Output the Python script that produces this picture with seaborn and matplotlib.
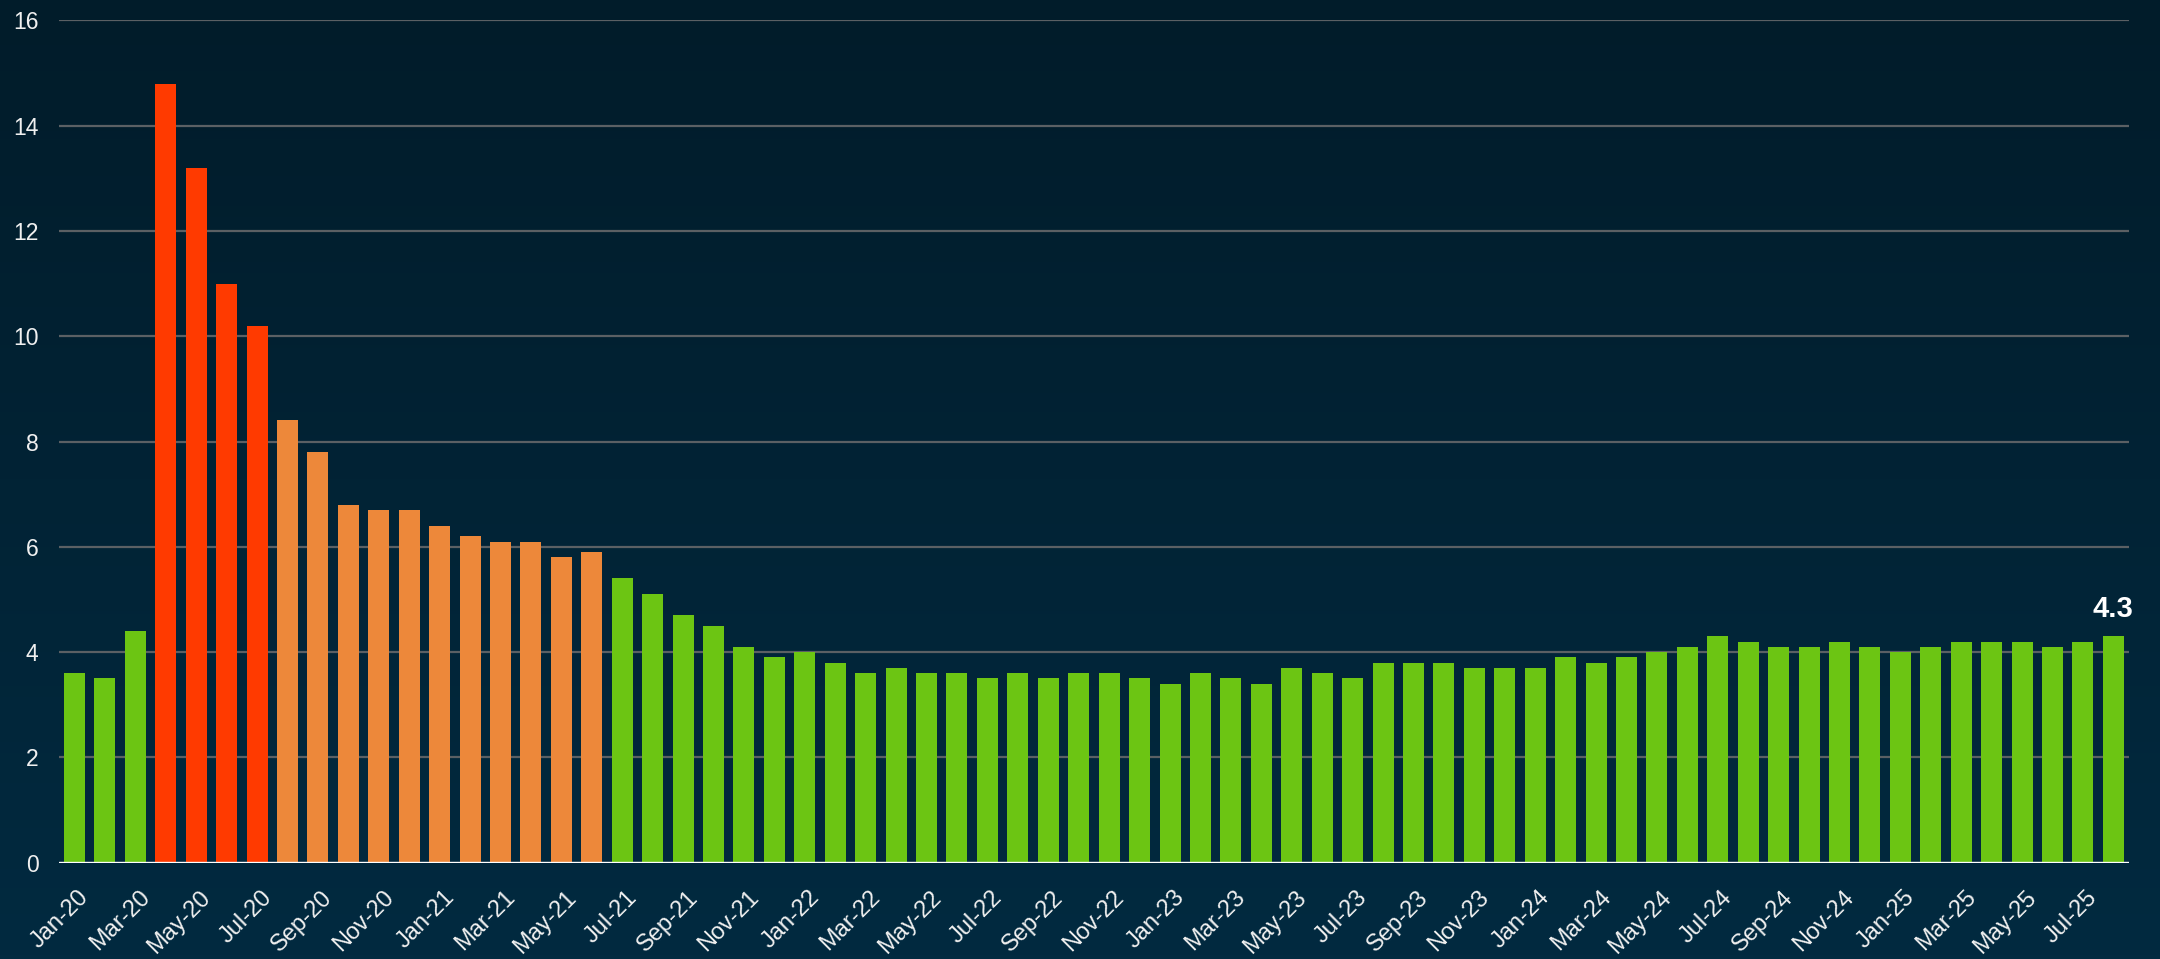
# Monthly unemployment rate, Jan-2020 to Aug-2025, bars coloured by severity

import numpy as np
import pandas as pd
import seaborn as sns
import matplotlib.pyplot as plt
import matplotlib.transforms as mtransforms
from matplotlib.colors import LinearSegmentedColormap

# --- Data ---
years = ["20", "21", "22", "23", "24", "25"]
month_names = ["Jan", "Feb", "Mar", "Apr", "May", "Jun",
               "Jul", "Aug", "Sep", "Oct", "Nov", "Dec"]
months = [f"{m}-{y}" for y in years for m in month_names][:68]

rate = [
    3.6, 3.5, 4.4, 14.8, 13.2, 11.0, 10.2, 8.4, 7.8, 6.8, 6.7, 6.7,   # 2020
    6.4, 6.2, 6.1, 6.1, 5.8, 5.9, 5.4, 5.1, 4.7, 4.5, 4.1, 3.9,       # 2021
    4.0, 3.8, 3.6, 3.7, 3.6, 3.6, 3.5, 3.6, 3.5, 3.6, 3.6, 3.5,       # 2022
    3.4, 3.6, 3.5, 3.4, 3.7, 3.6, 3.5, 3.8, 3.8, 3.8, 3.7, 3.7,       # 2023
    3.7, 3.9, 3.8, 3.9, 4.0, 4.1, 4.3, 4.2, 4.1, 4.1, 4.2, 4.1,       # 2024
    4.0, 4.1, 4.2, 4.2, 4.2, 4.1, 4.2, 4.3,                           # 2025
]

y_ticks = [0, 2, 4, 6, 8, 10, 12, 14, 16]


def level(v):
    # severity bucket used for the bar colour
    if v >= 10:
        return "severe"
    if v >= 5.5:
        return "elevated"
    return "normal"


df = pd.DataFrame({"month": months, "rate": rate})
df["level"] = [level(v) for v in rate]
palette = {"severe": "#ff3a00", "elevated": "#ed883a", "normal": "#6cc513"}

# --- Style ---
sns.set_theme(style="dark")
plt.rcParams["font.family"] = ["Liberation Sans", "DejaVu Sans"]

fig = plt.figure(figsize=(21.6, 9.59), dpi=100)

# gradient background over the whole figure
bg = fig.add_axes([0, 0, 1, 1], zorder=0)
grad = np.linspace(0, 1, 256).reshape(-1, 1)
cmap = LinearSegmentedColormap.from_list("bg", ["#011c2a", "#022a40"])
bg.imshow(grad, aspect="auto", cmap=cmap, extent=[0, 1, 0, 1], origin="upper")
bg.axis("off")

ax = fig.add_axes([0.02745, 0.1004, 0.958, 0.8784], zorder=1)
ax.set_facecolor("none")

sns.barplot(data=df, x="month", y="rate", hue="level", palette=palette,
            dodge=False, width=0.69, saturation=1, linewidth=0,
            legend=False, ax=ax)

# --- Axes ---
ax.set_xlim(-0.5, len(months) - 0.5)
ax.set_ylim(0, 16)
ax.set_yticks(y_ticks)
ax.set_yticklabels([str(t) for t in y_ticks])
ax.set_xticks(range(0, len(months), 2))
ax.set_xticklabels(months[::2], rotation=45, ha="right", rotation_mode="anchor")
ax.set_xlabel("")
ax.set_ylabel("")

ax.tick_params(axis="y", length=0, pad=15, labelsize=16.5, labelcolor="#f0f0f0")
ax.tick_params(axis="x", length=0, pad=17, labelsize=17, labelcolor="#f0f0f0")

# nudge the rotated month labels a little to the right
shift = mtransforms.ScaledTranslation(0.035, 0, fig.dpi_scale_trans)
for lbl in ax.get_xticklabels():
    lbl.set_transform(lbl.get_transform() + shift)

for s in ax.spines.values():
    s.set_visible(False)

ax.yaxis.grid(True, color="#5b6064", linewidth=1.6)
ax.xaxis.grid(False)
ax.set_axisbelow(True)
ax.axhline(0, color="white", linewidth=2.4, zorder=3)

# latest value label
ax.text(len(months) - 1, rate[-1] + 0.36, f"{rate[-1]:.1f}", ha="center",
        va="baseline", fontsize=21, fontweight="bold", color="white")

fig.savefig("out.png", dpi=100)
plt.close(fig)
